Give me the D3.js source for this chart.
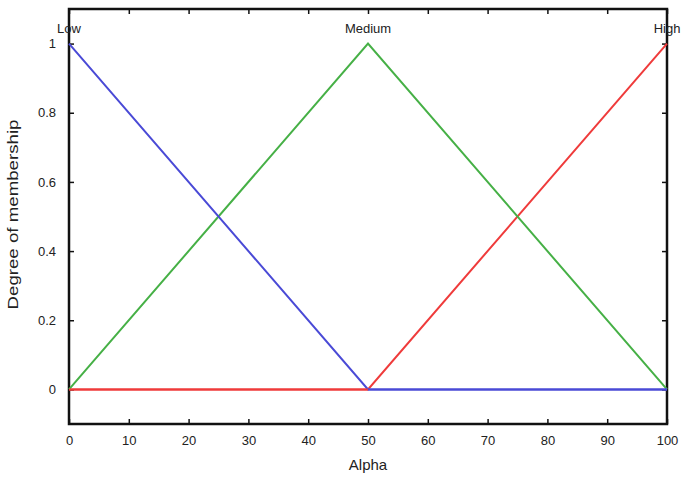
<!DOCTYPE html>
<html>
<head>
<meta charset="utf-8">
<script src="https://cdn.jsdelivr.net/npm/d3@7"></script>
<style>
  body { margin: 0; background: #fff; }
  svg text { font-family: "Liberation Sans", Arial, sans-serif; fill: #222; }
</style>
</head>
<body>
<svg id="chart"></svg>
<script>
// membership functions, x in Alpha, y in degree
const lowX = [0, 50, 100];
const lowY = [1, 0, 0];
const mediumX = [0, 50, 100];
const mediumY = [0, 1, 0];
const highX = [0, 50, 100];
const highY = [0, 0, 1];
const setNames = ['Low', 'Medium', 'High'];
const setPeaks = [0, 50, 100];
const xTicks = [0, 10, 20, 30, 40, 50, 60, 70, 80, 90, 100];
const yTicks = [0, 0.2, 0.4, 0.6, 0.8, 1];

const W = 686, H = 479;
const margin = { top: 9, right: 19, bottom: 55, left: 69 };
const width = W - margin.left - margin.right;
const height = H - margin.top - margin.bottom;

const svg = d3.select('#chart').attr('width', W).attr('height', H);
const g = svg.append('g').attr('transform', `translate(${margin.left},${margin.top})`);

const x = d3.scaleLinear().domain([0, 100]).range([0, width]);
const y = d3.scaleLinear().domain([-0.1, 1.1]).range([height, 0]);

// axes with inward ticks on all four sides
const styleAxis = sel => {
  sel.select('.domain').remove();
  sel.selectAll('line').attr('stroke', '#111').attr('stroke-width', 1.5);
  sel.selectAll('text').attr('font-size', 13).attr('fill', '#222');
};
g.append('g').attr('transform', `translate(0,${height})`)
  .call(d3.axisBottom(x).tickValues(xTicks).tickSizeInner(-5).tickPadding(12))
  .call(styleAxis);
g.append('g')
  .call(d3.axisTop(x).tickValues(xTicks).tickSizeInner(-5).tickFormat(''))
  .call(styleAxis);
g.append('g')
  .call(d3.axisLeft(y).tickValues(yTicks).tickSizeInner(-5).tickPadding(13).tickFormat(d3.format('~g')))
  .call(styleAxis);
g.append('g').attr('transform', `translate(${width},0)`)
  .call(d3.axisRight(y).tickValues(yTicks).tickSizeInner(-5).tickFormat(''))
  .call(styleAxis);

g.append('rect').attr('width', width).attr('height', height)
  .attr('fill', 'none').attr('stroke', '#111').attr('stroke-width', 2.5);

const line = d3.line().x(d => x(d[0])).y(d => y(d[1]));
const series = [
  { xs: lowX, ys: lowY, color: '#4a4ad6' },
  { xs: mediumX, ys: mediumY, color: '#46b046' },
  { xs: highX, ys: highY, color: '#ef3b3b' }
];
// draw red first so blue and green sit on top like in the picture
[series[2], series[1], series[0]].forEach(s => {
  g.append('path')
    .datum(s.xs.map((v, i) => [v, s.ys[i]]))
    .attr('d', line)
    .attr('fill', 'none')
    .attr('stroke', s.color)
    .attr('stroke-width', 2);
});
// blue flat part covers red on the right
g.append('path')
  .datum([[lowX[1], lowY[1]], [lowX[2], lowY[2]]])
  .attr('d', line).attr('fill', 'none').attr('stroke', series[0].color).attr('stroke-width', 2);
// red flat part covers on the left
g.append('path')
  .datum([[highX[0], highY[0]], [highX[1], highY[1]]])
  .attr('d', line).attr('fill', 'none').attr('stroke', series[2].color).attr('stroke-width', 2);

setNames.forEach((n, i) => {
  g.append('text')
    .attr('x', x(setPeaks[i]))
    .attr('y', y(1) - 11)
    .attr('text-anchor', 'middle')
    .attr('font-size', 13)
    .text(n);
});

g.append('text')
  .attr('x', width / 2).attr('y', height + 46)
  .attr('text-anchor', 'middle').attr('font-size', 15)
  .text('Alpha');

g.append('text')
  .attr('transform', `translate(${-51},${height / 2 - 2}) rotate(-90)`)
  .attr('text-anchor', 'middle').attr('font-size', 15)
  .attr('textLength', 190).attr('lengthAdjust', 'spacingAndGlyphs')
  .text('Degree of membership');
</script>
</body>
</html>
